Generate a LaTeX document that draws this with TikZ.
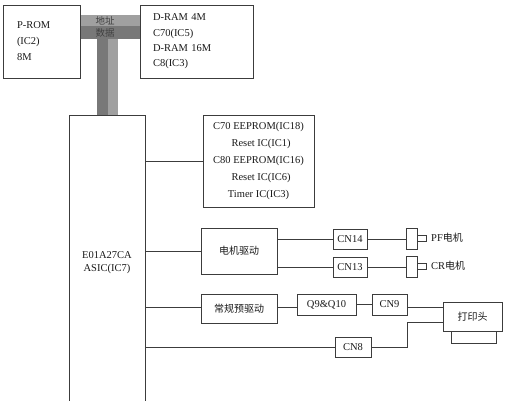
\documentclass[tikz,border=0pt]{standalone}
\usepackage{fontspec}
\setmainfont{Liberation Serif}
\newfontfamily\cjk{Noto Sans CJK SC}
\usetikzlibrary{calc}
\definecolor{linec}{HTML}{3C3C3C}
\definecolor{txtc}{HTML}{1A1A1A}
\definecolor{busL}{HTML}{A0A0A0}
\definecolor{busD}{HTML}{787878}
\begin{document}
\begin{tikzpicture}[x=1pt,y=-1pt,
  font=\fontsize{10.5}{13}\selectfont, text=txtc,
  box/.style={draw=linec,line width=0.9pt,inner sep=0pt,fill=white},
  wire/.style={draw=linec,line width=0.8pt},
  zh/.style={font=\cjk\fontsize{10}{12}\selectfont},
  bustxt/.style={text=black!75,font=\cjk\fontsize{9.5}{11}\selectfont}]
\useasboundingbox (0,0) rectangle (508,400);
\clip (0,0) rectangle (508,400);
\fill[white] (0,0) rectangle (508,400);

% bus bar
\fill[busL] (80,14.5) rectangle (140,26);
\fill[busD] (80,26) rectangle (140,39);
\fill[busD] (97,39) rectangle (108,116);
\fill[busL] (108,39) rectangle (118,116);
\node[bustxt] (addr) at (105,20.5) {地址};
\node[bustxt] (data) at (105,32.5) {数据};

% boxes
\node[box,minimum width=77pt,minimum height=73pt,align=left,text width=49pt,
  font=\fontsize{10.5}{16}\selectfont] (prom) at (41.5,41.5) {P-ROM\\(IC2)\\8M};
\node[box,minimum width=113pt,minimum height=73pt,align=left,text width=87pt,
  font=\fontsize{10.5}{15.3}\selectfont] (dram) at (196.5,41.5)
  {D-RAM 4M\\C70(IC5)\\D-RAM 16M\\C8(IC3)};
\node[box,minimum width=76pt,minimum height=295pt,align=center] (asic) at (107,262.5)
  {E01A27CA\\ASIC(IC7)};
\node[box,minimum width=111pt,minimum height=92pt,align=center,
  font=\fontsize{10.5}{17.2}\selectfont] (eep) at (258.5,161)
  {C70 EEPROM(IC18)\\\ \ Reset IC(IC1)\\C80 EEPROM(IC16)\\\ \ Reset IC(IC6)\\Timer IC(IC3)};
\node[box,zh,minimum width=76pt,minimum height=46pt] (mdrv) at (239,251) {电机驱动};
\node[box,minimum width=34pt,minimum height=20pt] (cn14) at (350,239) {CN14};
\node[box,minimum width=34pt,minimum height=20pt] (cn13) at (350,267) {CN13};
\node[box,minimum width=11pt,minimum height=21pt] (pfp) at (411.5,238.5) {};
\node[box,minimum width=9pt,minimum height=6pt] (pfs) at (421.5,238) {};
\node[box,minimum width=11pt,minimum height=21pt] (crp) at (411.5,266.5) {};
\node[box,minimum width=9pt,minimum height=6pt] (crs) at (421.5,266) {};
\node[anchor=west,inner sep=0pt] (pfl) at (431,238) {PF{\cjk\fontsize{10}{12}\selectfont 电机}};
\node[anchor=west,inner sep=0pt] (crl) at (431,266) {CR{\cjk\fontsize{10}{12}\selectfont 电机}};
\node[box,zh,minimum width=76pt,minimum height=29pt] (pre) at (239,308.5) {常规预驱动};
\node[box,minimum width=59pt,minimum height=21pt] (q9) at (326.5,304.5) {Q9\&Q10};
\node[box,minimum width=35pt,minimum height=21pt] (cn9) at (389.5,304.5) {CN9};
\node[box,minimum width=45pt,minimum height=14pt] (headb) at (473.5,336) {};
\node[box,zh,minimum width=59pt,minimum height=29pt] (head) at (472.5,316.5) {打印头};
\node[box,minimum width=36pt,minimum height=20pt] (cn8) at (353,347) {CN8};

% wires
\draw[wire] (asic.east |- eep.west) -- (eep.west);
\draw[wire] (asic.east |- mdrv.west) -- (mdrv.west);
\coordinate (p1) at ($(pre.west)+(0,-1)$);
\draw[wire] (asic.east |- p1) -- (p1);
\draw[wire] (asic.east |- cn8.west) -- (cn8.west);
\draw[wire] (mdrv.east |- cn14.west) -- (cn14.west);
\draw[wire] (mdrv.east |- cn13.west) -- (cn13.west);
\draw[wire] (cn14.east) -- (cn14.east -| pfp.west);
\draw[wire] (cn13.east) -- (cn13.east -| crp.west);
\draw[wire] (p1 -| pre.east) -- (p1 -| q9.west);
\draw[wire] (q9.east) -- (cn9.west);
\coordinate (h1) at ($(cn9.east)+(0,3)$);
\draw[wire] (h1) -- (h1 -| head.west);
\coordinate (h2) at ($(head.west)+(0,5.5)$);
\draw[wire] (cn8.east) -- ++(36,0) |- (h2);
\end{tikzpicture}
\end{document}
